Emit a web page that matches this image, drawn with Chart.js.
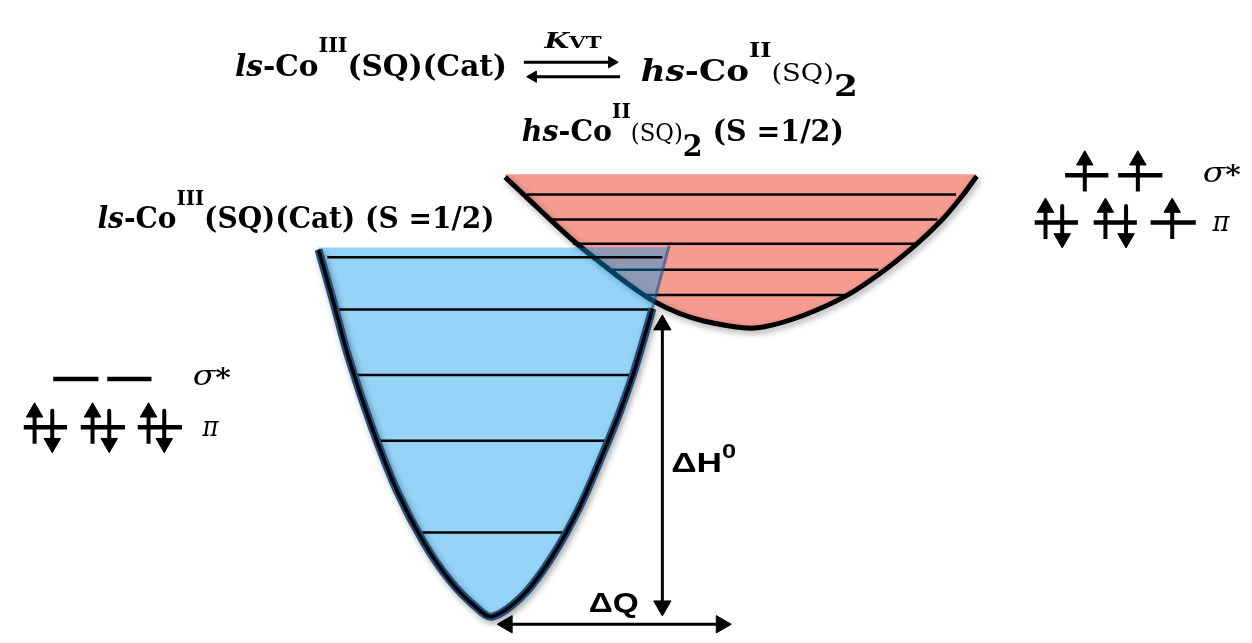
<!DOCTYPE html>
<html><head><meta charset="utf-8">
<script src="https://cdn.jsdelivr.net/npm/chart.js@4.4.0/dist/chart.umd.min.js"></script>
<style>html,body{margin:0;padding:0;background:#fff;overflow:hidden}canvas{display:block}</style>
</head><body>
<canvas id="c" width="1252" height="643"></canvas>
<script>
// ===== DATA (Q = configuration coordinate, E = energy in drawing units, E grows downward) =====
// ls-Co(III)(SQ)(Cat) potential well
const lsCurveQ = [313,327,344,367,393,420,447,473,490,522,552,579,603,619,633,644,653,670];
const lsCurveE = [247,297,360,430,497,550,590,617,627,604,563,513,457,417,377,340,308,243];
const lsTopE = 245;
const lsCrossIndex = 16;              // last point of the solid outline (crossing point)
const lsLevelE  = [255,309,377,445,540];
const lsLevelQ0 = [322,333,352,372,412];
const lsLevelQ1 = [663,653,633,605,568];

// hs-Co(II)(SQ)2 potential well
const hsCurveQ = [503,527,551,576,603,630,655,680,705,745,767,807,850,887,920,947,967,983];
const hsCurveE = [172,195,218,241,263,284,301,313,321,328,327,315,295,270,243,217,193,171];
const hsTopE = 169;
const hsLevelE  = [190,216,241,268,294];
const hsLevelQ0 = [525,548,572,607,647];
const hsLevelQ1 = [962,943,920,883,850];

// ΔH0 and ΔQ double arrows
const dHQ = 663, dHE = [315,626];
const dQE = 635, dQQ = [495,733];

// K_VT equilibrium arrows
const eqForwardQ = [522,618], eqForwardE = 53;
const eqBackQ = [620,525], eqBackE = 68;

// orbital diagrams: level energies, orbital segments, electron positions
const hsSigmaE = 170, hsPiE = 219;
const hsSigmaQ = [[1073,1117],[1127,1172]];
const hsPiQ    = [[1042,1086],[1102,1146],[1160,1206]];
const hsSigmaUpQ = [1093,1147];
const hsPiUpQ    = [1053,1114,1182];
const hsPiDownQ  = [1070,1135];

const lsSigmaE = 381, lsPiE = 431;
const lsSigmaQ = [[43,89],[98,143]];
const lsPiQ    = [[13,57],[71,116],[129,174]];
const lsPiUpQ   = [24,83,140];
const lsPiDownQ = [42,100,156];

// ===== helpers =====
const pts = (qs, es) => qs.map((q,i)=>({x:q, y:es[i]}));
function segments(list){ // list of [q0,e0,q1,e1]
  const out=[];
  list.forEach(s=>{ out.push({x:s[0],y:s[1]},{x:s[2],y:s[3]},{x:s[2],y:null}); });
  return out;
}
const HEAD = 9.5;
function arrows(list, R){ // [q0,e0,q1,e1,headStart,headEnd]
  const out=[];
  list.forEach(a=>{
    let [q0,e0,q1,e1,h0,h1]=a;
    const L=Math.hypot(q1-q0,e1-e0), dx=(q1-q0)/L, dy=(e1-e0)/L;
    const rotEnd = Math.atan2(dx,-dy)*180/Math.PI;
    const p0 = h0 ? {x:q0+dx*R, y:e0+dy*R, r:R, rot:rotEnd+180} : {x:q0,y:e0,r:0};
    const p1 = h1 ? {x:q1-dx*R, y:e1-dy*R, r:R, rot:rotEnd} : {x:q1,y:e1,r:0};
    out.push(p0,p1,{x:q1,y:null});
  });
  return out;
}
const UP_TAIL=17, UP_TIP=-25, DN_TOP=-17, DN_TIP=26;
function electrons(upQ, downQ, E){
  const l=[];
  upQ.forEach(q=>l.push([q,E+UP_TAIL,q,E+UP_TIP,false,true]));
  downQ.forEach(q=>l.push([q,E+DN_TOP,q,E+DN_TIP,false,true]));
  return l;
}

const lsPts = pts(lsCurveQ, lsCurveE);
const hsPts = pts(hsCurveQ, hsCurveE);

const base = {pointRadius:0, borderCapStyle:'butt', borderJoinStyle:'round', clip:false, spanGaps:false, tension:0};
const CURVE_T = 0.35;
const arrowStyle = (w)=>({ ...base, borderColor:'#000', borderWidth:w,
  pointStyle:'triangle', pointRadius:c=>(c.raw&&c.raw.r)||0, pointRotation:c=>(c.raw&&c.raw.rot)||0,
  pointBackgroundColor:'#000', pointBorderColor:'#000', pointBorderWidth:1 });

const datasets = [
  // hs well
  {...base, label:'hs fill', data:hsPts, tension:CURVE_T, borderWidth:0, borderColor:'rgba(0,0,0,0)',
    backgroundColor:'#f59b90', fill:{value:hsTopE}, order:20},
  {...base, label:'hs levels', data:segments(hsLevelE.map((e,i)=>[hsLevelQ0[i],e,hsLevelQ1[i],e])), borderColor:'#000', borderWidth:2.5, fill:false, order:19},
  {...base, label:'hs outline', shadow:true, data:hsPts, tension:CURVE_T, borderColor:'#000', borderWidth:5, fill:false, order:18},
  // ls well
  {...base, label:'ls fill', data:lsPts, tension:CURVE_T, borderWidth:0, borderColor:'rgba(0,0,0,0)',
    backgroundColor:'rgba(2,150,235,0.42)', fill:{value:lsTopE}, order:17},
  {...base, label:'ls levels', data:segments(lsLevelE.map((e,i)=>[lsLevelQ0[i],e,lsLevelQ1[i],e])), borderColor:'#000', borderWidth:2.5, fill:false, order:16},
  {...base, label:'ls upper edge', data:lsPts.slice(lsCrossIndex), borderColor:'rgba(30,70,120,0.55)', borderWidth:3, fill:false, order:15},
  {...base, label:'ls outline shade', shadow:true, data:lsPts.slice(0,lsCrossIndex+1), tension:CURVE_T, borderColor:'#1f4f80', borderWidth:8, fill:false, order:14},
  {...base, label:'ls outline', data:lsPts.slice(0,lsCrossIndex+1), tension:CURVE_T, borderColor:'#000', borderWidth:3.5, fill:false, order:13},
  // ΔH0, ΔQ
  {...arrowStyle(3), label:'dH', data:arrows([[dHQ,dHE[0],dHQ,dHE[1],true,true]],10), order:5},
  {...arrowStyle(3), label:'dQ', data:arrows([[dQQ[0],dQE,dQQ[1],dQE,true,true]],10), order:5},
  // K_VT
  {...arrowStyle(3), label:'eq', data:arrows([[eqForwardQ[0],eqForwardE,eqForwardQ[1],eqForwardE,false,true],[eqBackQ[0],eqBackE,eqBackQ[1],eqBackE,false,true]],6.5), order:5},
  // orbitals
  {...base, label:'orbitals', data:segments([
      ...hsSigmaQ.map(s=>[s[0],hsSigmaE,s[1],hsSigmaE]), ...hsPiQ.map(s=>[s[0],hsPiE,s[1],hsPiE]),
      ...lsSigmaQ.map(s=>[s[0],lsSigmaE,s[1],lsSigmaE]), ...lsPiQ.map(s=>[s[0],lsPiE,s[1],lsPiE])]),
    borderColor:'#000', borderWidth:4.5, fill:false, order:4},
  {...arrowStyle(4), label:'electrons', data:arrows([
      ...electrons(hsSigmaUpQ,[],hsSigmaE), ...electrons(hsPiUpQ,hsPiDownQ,hsPiE), ...electrons(lsPiUpQ,lsPiDownQ,lsPiE)],HEAD), order:3}
];

// soft drop shadow for the well outlines
const shadowPlugin = {
  id:'wellShadow',
  beforeDatasetDraw(chart, args){
    if(args.meta._dataset && args.meta._dataset.shadow){
      const c=chart.ctx; c.save(); c.shadowColor='rgba(0,0,0,0.35)'; c.shadowBlur=6; c.shadowOffsetX=2; c.shadowOffsetY=3; args.meta._sh=true;
    }
  },
  afterDatasetDraw(chart, args){
    if(args.meta._sh){ chart.ctx.restore(); args.meta._sh=false; }
  }
};

// ===== text labels =====
const SERIF='"DejaVu Serif"', SANS='"Liberation Sans"';
const textLabels = [
  {q:228, e:67,  w:272, size:30, fam:SERIF, runs:[['ls','bi'],['-Co','b'],['III','b','sup'],['(SQ)(Cat)','b']]},
  {q:641, e:72,  w:217, size:30, fam:SERIF, runs:[['hs','bi'],['-Co','b'],['II','b','sup'],['(SQ)','r','small'],['2','b','sub']]},
  {q:520, e:135, w:322, size:30, fam:SERIF, runs:[['hs','bi'],['-Co','b'],['II','b','sup'],['(SQ)','r','small'],['2','b','sub'],[' (S =1/2)','b']]},
  {q:88,  e:225, w:397, size:30, fam:SERIF, runs:[['ls','bi'],['-Co','b'],['III','b','sup'],['(SQ)(Cat) (S =1/2)','b']]},
  {q:543, e:38,  w:57,  size:22, fam:SERIF, runs:[['K','bi'],['VT','b','sc']]},
  {q:672, e:477, w:65,  size:28, fam:SANS,  runs:[['ΔH','b'],['0','b','sup0']]},
  {q:588, e:622, w:50,  size:28, fam:SANS,  runs:[['ΔQ','b']]},
  {q:1213,e:177, w:38,  size:28, fam:SERIF, runs:[['σ','i'],['*','b','star']]},
  {q:1223,e:228, w:17,  size:28, fam:SERIF, runs:[['π','i']]},
  {q:185, e:387, w:38,  size:28, fam:SERIF, runs:[['σ','i'],['*','b','star']]},
  {q:195, e:440, w:16,  size:28, fam:SERIF, runs:[['π','i']]}
];
function runFont(r, size, fam){
  let s=size, dy=0;
  if(r[2]==='sup'){ s=size*0.7; dy=-0.78*size; }
  if(r[2]==='sup0'){ s=size*0.72; dy=-0.5*size; }
  if(r[2]==='sub'){ s=size*1.0; dy=0.5*size; }
  if(r[2]==='small'){ s=size*0.8; }
  if(r[2]==='sc'){ s=size*0.75; }
  if(r[2]==='star'){ s=size*0.9; dy=0.05*size; }
  const st = r[1]==='bi'?'italic bold ':r[1]==='b'?'bold ':r[1]==='i'?'italic ':'';
  return {font:`${st}${s}px ${fam}`, dy};
}
const textPlugin = {
  id:'textLabels',
  afterDatasetsDraw(chart){
    const ctx=chart.ctx, xs=chart.scales.x, ys=chart.scales.y;
    ctx.save(); ctx.fillStyle='#000'; ctx.textBaseline='alphabetic'; ctx.textAlign='left';
    textLabels.forEach(L=>{
      const fs=L.runs.map(r=>runFont(r,L.size,L.fam));
      let tot=0; const ws=L.runs.map((r,i)=>{ctx.font=fs[i].font; const w=ctx.measureText(r[0]).width; tot+=w; return w;});
      const sx=L.w? L.w/tot : 1;
      ctx.save(); ctx.translate(xs.getPixelForValue(L.q), ys.getPixelForValue(L.e)); ctx.scale(sx,1);
      let x=0;
      L.runs.forEach((r,i)=>{ ctx.font=fs[i].font; ctx.fillText(r[0], x, fs[i].dy); x+=ws[i]; });
      ctx.restore();
    });
    ctx.restore();
  }
};

new Chart(document.getElementById('c'), {
  type:'line',
  data:{datasets},
  options:{
    responsive:false, animation:false, devicePixelRatio:1, events:[],
    layout:{padding:0},
    plugins:{legend:{display:false}, tooltip:{enabled:false}},
    scales:{
      x:{type:'linear', min:0, max:1252, display:false},
      y:{type:'linear', min:0, max:643, reverse:true, display:false}
    }
  },
  plugins:[shadowPlugin, textPlugin]
});
</script>
</body></html>
